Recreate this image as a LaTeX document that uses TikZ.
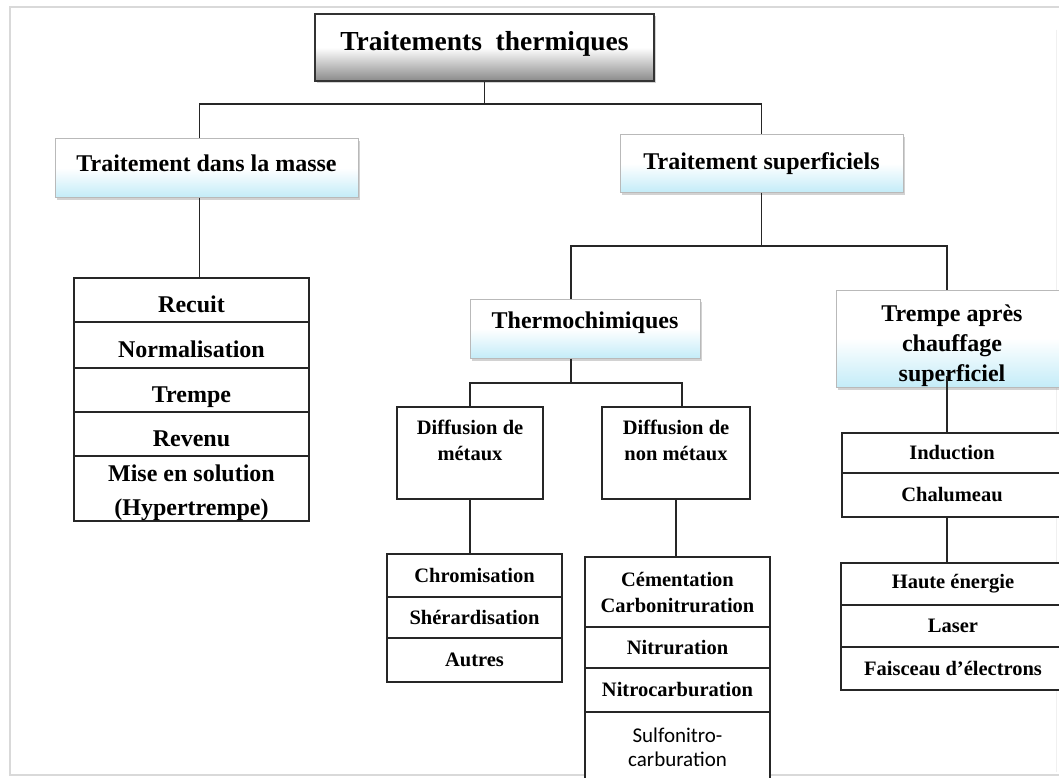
\documentclass[tikz,border=0pt]{standalone}
\usepackage{fontspec}
\setmainfont{Liberation Serif}
\newfontfamily\calib{Carlito}
\usetikzlibrary{positioning,shadows}

\definecolor{rootgray}{RGB}{138,138,138}
\definecolor{paleblue}{RGB}{196,236,248}

\tikzset{
  link/.style={line width=1.6pt, black!85},
  cell/.style={draw=black!85, line width=1.6pt, fill=white, inner sep=0pt, outer sep=0pt,
    align=center, font=\bfseries\fontsize{20.5}{26}\selectfont},
  bigcell/.style={cell, font=\bfseries\fontsize{24}{34}\selectfont},
  rowtext/.style={text height=24pt, text depth=0pt},
  level/.style={draw=gray!55, line width=1pt, top color=white, bottom color=paleblue,
    middle color=white, inner sep=0pt, align=center,
    drop shadow={shadow xshift=1.5pt, shadow yshift=-2.5pt, fill=gray!70},
    font=\bfseries\fontsize{24}{30}\selectfont},
  rootbox/.style={draw=black!80, line width=1.5pt, top color=white, bottom color=rootgray,
    middle color=white, inner sep=0pt, align=center,
    drop shadow={shadow xshift=1.5pt, shadow yshift=-2.5pt, fill=gray!70},
    font=\bfseries\fontsize{27.5}{30}\selectfont}
}

\begin{document}
\begin{tikzpicture}[x=1pt, y=-1pt]
  \useasboundingbox (0,0) rectangle (1059,778);
  \fill[white] (0,0) rectangle (1059,778);
  \clip (0,0) rectangle (1059,778);
  % page frame
  \draw[gray!30, line width=2.5pt] (1059,7) -- (10,7) -- (10,775) -- (1059,775);
  \draw[gray!12, line width=1pt] (1056,30) -- (1056,772);

  % top levels
  \node[rootbox, minimum width=339pt, minimum height=67pt, text height=19pt, text depth=12.3pt] (root) at (484.5,47.5) {Traitements\ \ thermiques};
  \node[level, minimum width=303pt, minimum height=58pt, text height=16.5pt, text depth=10.2pt] (masse) at (206.5,168) {Traitement dans la masse};
  \node[level, minimum width=283pt, minimum height=57pt] (sup) at (761.5,163.5) {Traitement superficiels};
  \node[level, minimum width=230pt, minimum height=59pt, text height=16.5pt, text depth=17.4pt] (thermo) at (585,328.5) {Thermochimiques};
  \node[level, minimum width=232pt, minimum height=97pt] (trempe) at (952,338.5) {\rule{0pt}{31pt}Trempe après\\chauffage\\superficiel};

  % traitement dans la masse
  \node[bigcell, rowtext, minimum width=235pt, minimum height=44pt] (recuit) at (191.5,300) {Recuit};
  \node[bigcell, rowtext, minimum width=235pt, minimum height=46pt, below=0pt of recuit] (norm) {Normalisation};
  \node[bigcell, rowtext, minimum width=235pt, minimum height=44pt, below=0pt of norm] (tremp) {Trempe};
  \node[bigcell, rowtext, minimum width=235pt, minimum height=44pt, below=0pt of tremp] (revenu) {Revenu};
  \node[bigcell, minimum width=235pt, minimum height=65pt, below=0pt of revenu] (hyper) {\rule{0pt}{24.5pt}Mise en solution\\(Hypertrempe)};

  % thermochimiques
  \node[cell, minimum width=146pt, minimum height=92pt] (dmet) at (470,453) {Diffusion de\\métaux\\\phantom{x}};
  \node[cell, minimum width=148pt, minimum height=92pt] (dnon) at (676,453) {Diffusion de\\non métaux\\\phantom{x}};

  \node[cell, minimum width=175pt, minimum height=43pt] (chrom) at (474.5,575.5) {Chromisation};
  \node[cell, minimum width=175pt, minimum height=41pt, below=0pt of chrom] (sherar) {Shérardisation};
  \node[cell, minimum width=175pt, minimum height=44pt, below=0pt of sherar] (autres) {Autres};

  \node[cell, minimum width=185pt, minimum height=70pt] (cem) at (677.5,592) {Cémentation\\Carbonitruration};
  \node[cell, minimum width=185pt, minimum height=41pt, below=0pt of cem] (nitru) {Nitruration};
  \node[cell, minimum width=185pt, minimum height=44pt, below=0pt of nitru] (nitroc) {Nitrocarburation};
  \node[cell, minimum width=185pt, minimum height=70pt, below=0pt of nitroc,
    font=\calib\fontsize{21}{24}\selectfont] (sulfo) {Sulfonitro-\\carburation};

  % trempe apres chauffage
  \node[cell, minimum width=220pt, minimum height=40pt] (induc) at (952,453) {Induction};
  \node[cell, minimum width=220pt, minimum height=44pt, below=0pt of induc] (chalum) {Chalumeau};

  \node[cell, minimum width=224pt, minimum height=42pt] (haute) at (953,584) {Haute énergie};
  \node[cell, minimum width=224pt, minimum height=42pt, below=0pt of haute] (laser) {Laser};
  \node[cell, minimum width=224pt, minimum height=43pt, below=0pt of laser] (faisc) {Faisceau d’électrons};

  % connectors
  \coordinate (j1) at (484.5,104);
  \draw[link] (root.south) -- (j1);
  \draw[link] (j1) -| ([xshift=-7pt]masse.north);
  \draw[link] (j1) -| (sup.north);

  \coordinate (m1) at ([xshift=-7pt]masse.south);
  \draw[link] (m1) -- (m1 |- recuit.north);

  \coordinate (j2) at (761.5,246);
  \draw[link] (sup.south) -- (j2);
  \draw[link] (j2) -| ([xshift=-14pt]thermo.north);
  \draw[link] (j2) -| ([xshift=-5pt]trempe.north);

  \coordinate (j3) at (571,383);
  \draw[link] ([xshift=-14pt]thermo.south) -- (j3);
  \draw[link] (j3) -| (dmet.north);
  \draw[link] (j3) -| ([xshift=6pt]dnon.north);
  \draw[link] (dmet.south) -- (dmet.south |- chrom.north);
  \draw[link] (dnon.south) -- (dnon.south |- cem.north);

  \coordinate (t1) at ([xshift=-5pt]trempe.south);
  \draw[link, shorten <=-12pt] (t1) -- (t1 |- induc.north);
  \draw[link] (chalum.south -| t1) -- (t1 |- haute.north);
\end{tikzpicture}
\end{document}
